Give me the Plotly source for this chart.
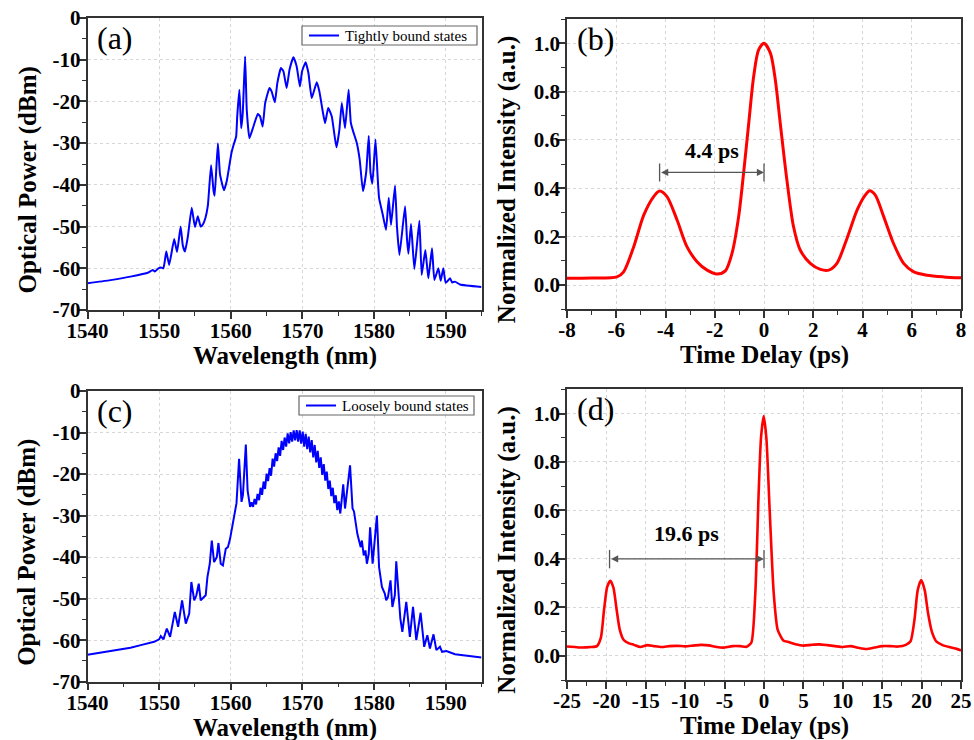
import plotly.graph_objects as go

# ---------------- data ----------------
# (a) tightly bound states spectrum
a_wl = [1540.0, 1543.0, 1546.0, 1548.5, 1549.1, 1549.4, 1549.9, 1550.3, 1550.6, 1551.0, 1551.4,
        1552.1, 1552.5, 1553.0, 1553.3, 1553.6, 1554.0, 1554.55, 1555.0, 1555.4, 1555.8, 1556.1,
        1556.45, 1556.8, 1557.25, 1557.6, 1557.75, 1558.2, 1558.5, 1559.05, 1559.45, 1560.1,
        1560.4, 1560.75, 1560.9, 1561.2, 1561.45, 1561.67, 1562.0, 1562.23, 1562.6, 1563.16,
        1563.77, 1564.1, 1564.45, 1564.8, 1565.4, 1565.7, 1566.15, 1566.5, 1567.0, 1567.35,
        1567.8, 1568.2, 1568.74, 1569.2, 1569.65, 1569.95, 1570.45, 1570.84, 1571.3, 1572.0,
        1572.37, 1572.84, 1573.16, 1573.6, 1574.1, 1574.75, 1575.16, 1575.5, 1575.95, 1576.45,
        1576.75, 1577.0, 1577.6, 1578.0, 1578.45, 1578.9, 1579.26, 1579.5, 1579.77, 1580.2,
        1580.5, 1580.7, 1581.2, 1581.67, 1582.05, 1582.37, 1582.93, 1583.2, 1583.55, 1584.33,
        1584.6, 1584.8, 1585.16, 1585.63, 1586.33, 1586.65, 1587.16, 1587.58, 1588.09, 1588.42,
        1588.98, 1589.3, 1589.67, 1590.0, 1590.6, 1590.9, 1591.3, 1592.0, 1595.0]
a_db = [-63.6, -62.9, -62.0, -61.0, -60.4, -60.8, -60.0, -59.8, -60.0, -56.0, -59.2,
        -53.0, -56.1, -50.0, -54.5, -56.0, -52.5, -45.5, -50.1, -47.5, -50.0, -49.5,
        -48.0, -45.0, -35.3, -41.5, -42.6, -30.0, -37.5, -41.3, -39.0, -32.3,
        -30.4, -28.4, -23.6, -17.2, -26.4, -22.8, -9.2, -22.0, -28.8, -26.0,
        -23.0, -23.6, -26.0, -20.4, -16.8, -17.6, -20.2, -15.6, -12.0, -12.8,
        -16.8, -12.4, -9.4, -11.6, -16.4, -12.8, -10.6, -13.2, -19.2, -15.4,
        -17.6, -22.4, -25.2, -21.6, -23.6, -31.0, -26.8, -20.4, -26.4, -17.2,
        -25.0, -26.7, -30.0, -34.0, -41.5, -37.0, -28.3, -37.0, -39.7, -29.1,
        -38.0, -43.1, -47.0, -50.8, -43.1, -49.6, -40.2, -50.0, -56.8, -45.1,
        -53.0, -56.5, -49.4, -60.2, -48.6, -61.6, -55.6, -62.4, -55.2, -62.8,
        -60.0, -63.0, -60.0, -63.5, -62.4, -63.4, -63.2, -63.9, -64.5]

# (b) autocorrelation, tightly bound
b_t = [-8.0, -7.0, -5.97, -5.70, -5.29, -4.88, -4.48, -4.24, -3.94, -3.53, -3.13, -2.72, -2.31,
       -1.91, -1.57, -1.30, -1.03, -0.83, -0.62, -0.42, -0.22, 0.0, 0.26, 0.46, 0.66, 0.93,
       1.20, 1.47, 1.88, 2.29, 2.63, 2.96, 3.37, 3.78, 4.11, 4.29, 4.52, 4.86, 5.26, 5.67,
       6.08, 6.62, 7.3, 8.0]
b_i = [0.028, 0.029, 0.034, 0.055, 0.159, 0.290, 0.366, 0.389, 0.366, 0.269, 0.159, 0.097, 0.062,
       0.046, 0.059, 0.131, 0.283, 0.462, 0.669, 0.862, 0.972, 1.0, 0.959, 0.848, 0.669, 0.434,
       0.241, 0.145, 0.090, 0.065, 0.062, 0.090, 0.193, 0.310, 0.372, 0.390, 0.372, 0.283, 0.172, 0.090,
       0.055, 0.041, 0.034, 0.030]

# (c) loosely bound states spectrum
c_wl = [1540.0, 1543.0, 1546.0, 1547.44, 1549.3, 1550.0, 1550.23, 1550.6, 1551.07, 1551.53,
        1552.19, 1552.65, 1553.2, 1553.72, 1554.2, 1554.5, 1554.9, 1555.2, 1555.53, 1555.8,
        1556.2, 1556.5, 1556.74, 1557.07, 1557.35, 1557.67, 1558.05, 1558.28, 1558.6, 1558.9,
        1559.3, 1559.6, 1559.9, 1560.2, 1560.47, 1560.8, 1561.16, 1561.5, 1561.7, 1562.1,
        1562.35, 1562.7,
        1562.90, 1563.11, 1563.32, 1563.53, 1563.74, 1563.95, 1564.16, 1564.37, 1564.58, 1564.79,
        1565.00, 1565.21, 1565.42, 1565.63, 1565.84, 1566.05, 1566.26, 1566.47, 1566.68, 1566.89,
        1567.10, 1567.31, 1567.52, 1567.73, 1567.94, 1568.15, 1568.36, 1568.57, 1568.78, 1568.99,
        1569.20, 1569.41, 1569.62, 1569.83, 1570.04, 1570.25, 1570.46, 1570.67, 1570.88, 1571.09,
        1571.30, 1571.51, 1571.72, 1571.93, 1572.14, 1572.35, 1572.56, 1572.77, 1572.98, 1573.19,
        1573.40, 1573.61, 1573.82, 1574.03, 1574.24, 1574.45, 1574.66, 1574.87, 1575.08, 1575.29,
        1575.7, 1575.95, 1576.65, 1577.0, 1577.2, 1577.44, 1577.67, 1577.9, 1578.14, 1578.3,
        1578.56, 1578.8, 1579.0, 1579.26, 1579.45, 1579.8, 1580.4, 1580.7, 1581.1, 1581.5,
        1581.7, 1581.95, 1582.3, 1582.56, 1582.9, 1583.1, 1583.44, 1583.67, 1583.95, 1584.5,
        1585.0, 1585.44, 1585.9, 1586.5, 1587.0, 1587.44, 1587.8, 1588.3, 1588.7, 1589.2,
        1589.5, 1590.1, 1591.3, 1595.0]
c_db = [-63.5, -62.7, -61.8, -61.2, -60.4, -59.8, -59.0, -59.8, -57.2, -59.2,
        -53.2, -56.8, -50.4, -56.0, -53.6, -46.0, -50.4, -49.2, -46.4, -50.4,
        -49.6, -49.2, -44.8, -41.6, -36.0, -41.2, -40.0, -36.6, -41.6, -42.0,
        -38.0, -37.6, -35.6, -32.8, -30.4, -27.0, -16.3, -26.7, -25.0, -12.9,
        -24.0, -27.9,
        -26.8, -27.9, -26.0, -27.3, -24.8, -26.3, -23.3, -25.0, -21.8, -23.6,
        -19.9, -21.7, -18.6, -20.4, -16.3, -18.2, -15.0, -16.9, -13.6, -15.6,
        -12.0, -14.2, -11.2, -13.4, -10.2, -12.6, -9.9, -12.2, -9.5, -11.9,
        -9.4, -12.2, -9.5, -12.7, -9.8, -13.4, -10.3, -14.0, -11.0, -14.8,
        -11.8, -16.0, -13.0, -17.2, -14.4, -18.5, -16.0, -20.2, -17.6, -21.6,
        -19.4, -23.6, -21.6, -25.3, -23.3, -27.0, -25.1, -28.7, -26.6, -29.5,
        -22.5, -28.3, -17.9, -28.3, -29.0, -32.3, -34.4, -36.0, -37.6, -36.0,
        -39.6, -38.4, -41.6, -39.2, -32.8, -41.6, -30.0, -42.4, -47.2, -48.8,
        -50.4, -49.6, -45.6, -52.0, -49.2, -41.0, -50.4, -54.8, -58.0, -50.8,
        -59.2, -52.0, -60.0, -53.4, -61.6, -58.8, -62.0, -58.6, -62.4, -61.6,
        -62.8, -62.6, -63.4, -64.2]

# (d) autocorrelation, loosely bound
d_t = [-25.0, -24.0, -23.0, -22.0, -21.2, -20.7, -20.3, -19.9, -19.5, -19.1, -18.7, -18.3,
       -17.8, -17.2, -16.5, -15.7, -14.8, -14.0, -13.0, -12.0, -11.0, -10.0, -9.0, -8.0,
       -7.0, -6.0, -5.0, -4.0, -3.0, -2.2, -1.6, -1.1, -0.68, -0.38, -0.04, 0.30, 0.72,
       1.23, 1.74, 2.5, 3.0, 4.0, 5.0, 6.0, 7.0, 8.0, 9.0, 10.0, 11.0, 12.0, 13.0, 14.0,
       15.0, 16.0, 17.0, 18.0, 18.6, 19.1, 19.5, 19.95, 20.4, 20.8, 21.3, 21.9, 22.6,
       23.5, 24.3, 25.0]
d_i = [0.038, 0.036, 0.034, 0.036, 0.040, 0.075, 0.19, 0.285, 0.31, 0.28, 0.19, 0.107,
       0.065, 0.052, 0.045, 0.036, 0.044, 0.040, 0.036, 0.040, 0.041, 0.039, 0.042, 0.045,
       0.043, 0.036, 0.034, 0.040, 0.040, 0.037, 0.055, 0.26, 0.67, 0.90, 0.99, 0.90, 0.60,
       0.26, 0.107, 0.062, 0.058, 0.048, 0.042, 0.045, 0.047, 0.044, 0.040, 0.036, 0.040,
       0.033, 0.028, 0.034, 0.040, 0.040, 0.038, 0.045, 0.06, 0.15, 0.27, 0.313, 0.27,
       0.18, 0.10, 0.058, 0.045, 0.036, 0.030, 0.022]

# tick labels
spec_x_ticks = [1540, 1550, 1560, 1570, 1580, 1590]
spec_x_text = ["1540", "1550", "1560", "1570", "1580", "1590"]
spec_y_ticks = [0, -10, -20, -30, -40, -50, -60, -70]
spec_y_text = ["0", "-10", "-20", "-30", "-40", "-50", "-60", "-70"]
b_x_ticks = [-8, -6, -4, -2, 0, 2, 4, 6, 8]
b_x_text = ["-8", "-6", "-4", "-2", "0", "2", "4", "6", "8"]
d_x_ticks = [-25, -20, -15, -10, -5, 0, 5, 10, 15, 20, 25]
d_x_text = ["-25", "-20", "-15", "-10", "-5", "0", "5", "10", "15", "20", "25"]
ac_y_ticks = [0.0, 0.2, 0.4, 0.6, 0.8, 1.0]
ac_y_text = ["0.0", "0.2", "0.4", "0.6", "0.8", "1.0"]

# legend names
a_name = "Tightly bound states"
c_name = "Loosely bound states"

# pulse separations (arrow annotations)
b_sep = [-4.24, 0.0]
b_sep_label = "4.4 ps"
d_sep = [-19.6, 0.0]
d_sep_label = "19.6 ps"

# ---------------- layout helpers ----------------
W, H = 974, 740
FONT = "Liberation Serif"
FRAME = "#333333"


def px(x):
    return x / W


def py(y):
    return 1 - y / H


def axis(domain, rng, tv, tt, minor_dtick, minor_tick0, anchor, standoff):
    return dict(
        domain=domain, range=rng, anchor=anchor, automargin=False,
        tickmode="array", tickvals=tv, ticktext=tt,
        ticks="outside", ticklen=7, tickwidth=1.5, tickcolor=FRAME,
        ticklabelstandoff=standoff,
        showline=True, linecolor=FRAME, linewidth=1.5, mirror=True,
        showgrid=True, gridcolor="#d6d6d6", griddash="dot", gridwidth=1,
        zeroline=False,
        tickfont=dict(family=FONT, size=21, color="black", weight="bold"),
        minor=dict(ticks="outside", ticklen=4, tickwidth=1.2, tickcolor=FRAME,
                   tickmode="linear", tick0=minor_tick0, dtick=minor_dtick, showgrid=False),
    )


fig = go.Figure()

fig.add_trace(go.Scatter(x=a_wl, y=a_db, mode="lines", name=a_name, showlegend=False,
                         line=dict(color="#0000ff", width=2, shape="spline", smoothing=0.4),
                         xaxis="x", yaxis="y"))
fig.add_trace(go.Scatter(x=b_t, y=b_i, mode="lines", showlegend=False,
                         line=dict(color="#ff0000", width=3, shape="spline", smoothing=0.8),
                         xaxis="x2", yaxis="y2"))
fig.add_trace(go.Scatter(x=c_wl, y=c_db, mode="lines", name=c_name, showlegend=False,
                         line=dict(color="#0000ff", width=2),
                         xaxis="x3", yaxis="y3"))
fig.add_trace(go.Scatter(x=d_t, y=d_i, mode="lines", showlegend=False,
                         line=dict(color="#ff0000", width=2.6, shape="spline", smoothing=0.6),
                         xaxis="x4", yaxis="y4"))

# panel pixel boxes (left, right, top, bottom)
A = (87.5, 481.5, 18, 310)
B = (567, 961, 19, 309.3)
C = (87.5, 481.5, 391, 681.7)
D = (567, 961, 389.3, 680)

XS, YS = -6, -6  # tick label standoff adjustments

fig.update_layout(
    template="none",
    width=W, height=H, margin=dict(l=0, r=0, t=0, b=0, autoexpand=False),
    paper_bgcolor="white", plot_bgcolor="white",
    font=dict(family=FONT, size=21, color="black"),
    showlegend=False,
    xaxis=axis([px(A[0]), px(A[1])], [1540, 1595], spec_x_ticks, spec_x_text, 5, 1540, "y", XS),
    yaxis=axis([py(A[3]), py(A[2])], [-70, 0], spec_y_ticks, spec_y_text, 5, -70, "x", YS),
    xaxis2=axis([px(B[0]), px(B[1])], [-8, 8], b_x_ticks, b_x_text, 1, -8, "y2", XS),
    yaxis2=axis([py(B[3]), py(B[2])], [-0.1, 1.1], ac_y_ticks, ac_y_text, 0.1, 0, "x2", YS),
    xaxis3=axis([px(C[0]), px(C[1])], [1540, 1595], spec_x_ticks, spec_x_text, 5, 1540, "y3", XS),
    yaxis3=axis([py(C[3]), py(C[2])], [-70, 0], spec_y_ticks, spec_y_text, 5, -70, "x3", YS),
    xaxis4=axis([px(D[0]), px(D[1])], [-25, 25], d_x_ticks, d_x_text, 2.5, -25, "y4", XS),
    yaxis4=axis([py(D[3]), py(D[2])], [-0.1, 1.1], ac_y_ticks, ac_y_text, 0.1, 0, "x4", YS),
)

ann = []
shapes = []
# axis titles
TF = dict(family=FONT, size=25, color="black", weight="bold")
for (l, r, t, b), xt, yt in [(A, "Wavelength (nm)", "Optical Power (dBm)"),
                             (B, "Time Delay (ps)", "Normalized Intensity (a.u.)"),
                             (C, "Wavelength (nm)", "Optical Power (dBm)"),
                             (D, "Time Delay (ps)", "Normalized Intensity (a.u.)")]:
    ann.append(dict(text=xt, xref="paper", yref="paper", x=px((l + r) / 2), y=py(b + 46),
                    showarrow=False, font=TF, xanchor="center", yanchor="middle"))
    ann.append(dict(text=yt, xref="paper", yref="paper", x=px(l - 60), y=py((t + b) / 2 + 16),
                    showarrow=False, font=TF, textangle=-90, xanchor="center", yanchor="middle"))

# panel labels
for lab, ax in [("(a)", "x"), ("(b)", "x2"), ("(c)", "x3"), ("(d)", "x4")]:
    yax = "y" + ax[1:]
    ann.append(dict(text=lab, xref=ax + " domain", yref=yax + " domain", x=0.02, y=1.0,
                    xanchor="left", yanchor="top", showarrow=False,
                    font=dict(family=FONT, size=32, color="black")))

# legend boxes (frame, line sample, label)
for name, (l, r, t, b) in [(a_name, (302, 477, 26, 45)), (c_name, (299, 474, 396, 415))]:
    shapes.append(dict(type="rect", xref="paper", yref="paper", x0=px(l), x1=px(r), y0=py(b), y1=py(t),
                       line=dict(color="#666666", width=1.2), fillcolor="white"))
    shapes.append(dict(type="line", xref="paper", yref="paper", x0=px(l + 7), x1=px(l + 37),
                       y0=py((t + b) / 2), y1=py((t + b) / 2), line=dict(color="#0000ff", width=2)))
    ann.append(dict(text=name, xref="paper", yref="paper", x=px(l + 41), y=py((t + b) / 2),
                    xanchor="left", yanchor="middle", showarrow=False,
                    font=dict(family=FONT, size=15, color="black")))

# separation arrows
ARC = "#555555"
for sep, lab, xa, ya, yline, ytext, y0, y1 in [
        (b_sep, b_sep_label, "x2", "y2", 0.466, 0.555, 0.428, 0.503),
        (d_sep, d_sep_label, "x4", "y4", 0.40, 0.505, 0.361, 0.437)]:
    ann.append(dict(x=sep[1], y=yline, ax=sep[0], ay=yline, xref=xa, yref=ya, axref=xa, ayref=ya,
                    showarrow=True, arrowhead=2, startarrowhead=2, arrowside="end+start",
                    arrowsize=1.1, arrowwidth=1.3, arrowcolor=ARC, text=""))
    ann.append(dict(x=(sep[0] + sep[1]) / 2, y=ytext, xref=xa, yref=ya, text=lab, showarrow=False,
                    font=dict(family=FONT, size=22, color="black", weight="bold")))
    for xv in sep:
        shapes.append(dict(type="line", xref=xa, yref=ya, x0=xv, x1=xv, y0=y0, y1=y1,
                           line=dict(color=ARC, width=1.3)))

fig.update_layout(annotations=ann, shapes=shapes)

fig.write_html("out.html", config={"displayModeBar": False},
               post_script="document.body.style.margin='0px';document.body.style.overflow='hidden';")
